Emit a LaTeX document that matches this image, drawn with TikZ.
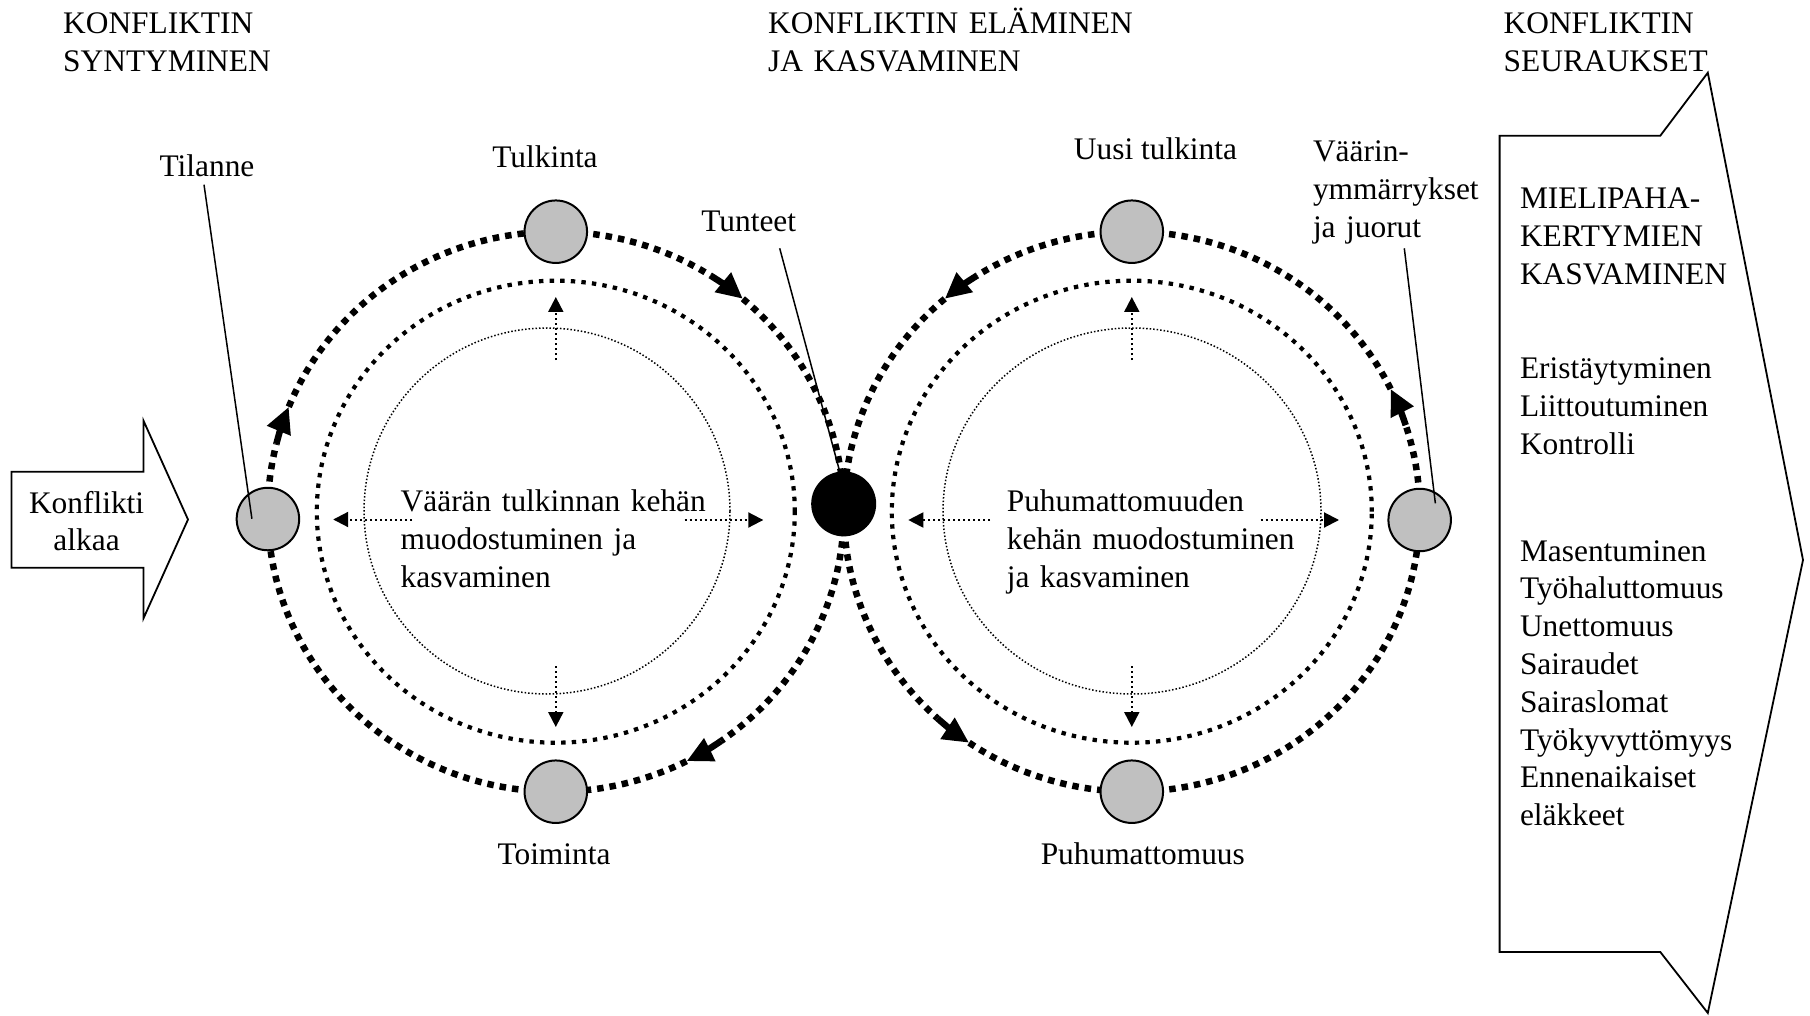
\documentclass[tikz,border=0pt]{standalone}
\usepackage{fontspec}
\setmainfont{Liberation Serif}
\usetikzlibrary{arrows.meta,calc}
\definecolor{nodegray}{RGB}{192,192,192}
\newcommand\txtfont{\fontsize{31.4}{37.8}\selectfont}
% arc of one of the two big orbits: style, centre, start angle, end angle
\newcommand\orbitarc[4]{%
  \draw[#1] ($(#2)+(#3:288pt and 280pt)$)
    arc[start angle=#3, end angle=#4, x radius=288pt, y radius=280pt];}
% dashed orbit arc that ends in a solid shaft with a heavy arrow head:
% centre, start angle, angle of the arrow point
\newcommand\orbitarrow[3]{%
  \pgfmathsetmacro\shaftstart{#3-8*sign(#3-#2)}%
  \orbitarc{outerring}{#1}{#2}{\shaftstart}%
  \orbitarc{flowtip}{#1}{\shaftstart}{#3}}
\tikzset{
  lbl/.style={font=\txtfont, inner sep=0pt, anchor=base},
  block/.style={font=\txtfont, inner sep=0pt, anchor=base west, text width=#1, align=left},
  station/.style={circle, draw=black, line width=2pt, fill=nodegray, minimum size=62.5pt, inner sep=0pt},
  hub/.style={circle, fill=black, minimum size=65pt, inner sep=0pt},
  outerring/.style={line width=6.5pt, dash pattern=on 6.5pt off 6pt},
  midring/.style={line width=4.2pt, dash pattern=on 4.4pt off 6.2pt},
  innerring/.style={line width=1.5pt, dash pattern=on 1.5pt off 2pt},
  flowtip/.style={line width=6.5pt, -{Triangle[length=26pt,width=24pt]}},
  probe/.style={line width=2pt, dash pattern=on 2pt off 3pt, -{Triangle[length=15pt,width=15pt]}},
  leader/.style={line width=1.5pt},
  outline/.style={line width=1.8pt, line join=miter},
}
\begin{document}
\begin{tikzpicture}[x=1pt,y=1pt]
\useasboundingbox (0,0) rectangle (1810,-1016);

% centres of the two cycles
\coordinate (cl) at (555.8,-511.7);
\coordinate (cr) at (1131.8,-511.7);

% inner thin circles
\draw[innerring] (547,-511) ellipse[x radius=183pt, y radius=183pt];
\draw[innerring] (1132,-511) ellipse[x radius=189pt, y radius=183pt];

% middle rings
\draw[midring] (cl) ellipse[x radius=239pt, y radius=231pt];
\draw[midring] (cr) ellipse[x radius=240pt, y radius=231pt];

% left cycle, clockwise: Tilanne -> Tulkinta -> Tunteet -> Toiminta -> Tilanne
\orbitarrow{cl}{181.5}{158}
\orbitarc{outerring}{cl}{158}{90}
\orbitarrow{cl}{90}{49.5}
\orbitarc{outerring}{cl}{49.5}{1.6}
\orbitarrow{cl}{1.6}{-63}
\orbitarc{outerring}{cl}{-63}{-90}
\orbitarc{outerring}{cl}{-90}{-178.5}

% right cycle, counter-clockwise: Uusi tulkinta -> Tunteet -> Puhumattomuus -> juorut -> Uusi tulkinta
\orbitarrow{cr}{90}{130.5}
\orbitarc{outerring}{cr}{130.5}{178.5}
\orbitarrow{cr}{178.5}{235.6}
\orbitarc{outerring}{cr}{235.6}{270}
\orbitarc{outerring}{cr}{-90}{-1.7}
\orbitarrow{cr}{-1.7}{26}
\orbitarc{outerring}{cr}{26}{90}

% stations on the orbits
\node[station] (tilanne)  at ($(cl)+(181.5:288pt and 280pt)$) {};
\node[station] (tulkinta) at ($(cl)+(90:288pt and 280pt)$) {};
\node[station] (toiminta) at ($(cl)+(270:288pt and 280pt)$) {};
\node[hub]     (tunteet)  at ($(cl)+(1.6:288pt and 280pt)$) {};
\node[station] (uusi)     at ($(cr)+(90:288pt and 280pt)$) {};
\node[station] (puhu)     at ($(cr)+(270:288pt and 280pt)$) {};
\node[station] (juorut)   at ($(cr)+(-1.7:288pt and 280pt)$) {};

% dotted growth arrows inside the cycles
\foreach \c in {cl,cr}{
  \draw[probe] ($(\c)+(0,151.7)$) -- ($(\c)+(0,214.7)$);
  \draw[probe] ($(\c)+(0,-154.3)$) -- ($(\c)+(0,-215.3)$);
}
\draw[probe] ($(cl)+(-143.8,-7.8)$) -- ($(cl)+(-222.6,-7.8)$);
\draw[probe] ($(cl)+(128.7,-8.3)$) -- ($(cl)+(207.5,-8.3)$);
\draw[probe] ($(cr)+(-141.8,-8.3)$) -- ($(cr)+(-223.5,-8.3)$);
\draw[probe] ($(cr)+(128.7,-8.3)$) -- ($(cr)+(207.2,-8.3)$);

% headings
\node[block=400pt] (h1) at (63,-33.3) {KONFLIKTIN\\SYNTYMINEN};
\node[block=500pt] (h2) at (768,-33.3) {KONFLIKTIN ELÄMINEN\\JA KASVAMINEN};
\node[block=300pt] (h3) at (1503.5,-33.3) {KONFLIKTIN\\SEURAUKSET};

% station labels
\node[lbl] (tilanne-l)  at (207,-176.7) {Tilanne};
\node[lbl] (tulkinta-l) at (545,-167.3) {Tulkinta};
\node[lbl] (toiminta-l) at (554,-864) {Toiminta};
\node[lbl] (tunteet-l)  at (748.7,-231.7) {Tunteet};
\node[lbl] (uusi-l)     at (1155.5,-160) {Uusi tulkinta};
\node[lbl] (puhu-l)     at (1142.8,-864) {Puhumattomuus};
\node[block=250pt] (juorut-l) at (1312.8,-161.7) {Väärin-\\ymmärrykset\\ja juorut};

% leader lines
\draw[leader] ($(tilanne-l.base)+(-3,-8)$) -- ($(tilanne.center)+(-16,0.3)$);
\draw[leader] ($(tunteet-l.base)+(31,-16.6)$) -- (tunteet.97);
\draw[leader] ($(juorut-l.base west)+(91.5,-86.6)$) -- ($(juorut.center)+(15.7,16.7)$);

% cycle texts
\node[block=400pt] (cyc-l) at (400.5,-511.7) {Väärän tulkinnan kehän\\muodostuminen ja\\kasvaminen};
\node[block=400pt] (cyc-r) at (1006.6,-511.7) {Puhumattomuuden\\kehän muodostuminen\\ja kasvaminen};

% start arrow
\draw[outline] (11.5,-471.7) -- (143.5,-471.7) -- (143.5,-420.7) -- (188,-519.5)
  -- (143.5,-618.3) -- (143.5,-567.7) -- (11.5,-567.7) -- cycle;
\node[font=\txtfont, inner sep=0pt, anchor=base, text width=150pt, align=center]
  (start-l) at (86.6,-513) {Konflikti\\alkaa};

% consequences arrow
\draw[outline] (1499.6,-135.7) -- (1660.3,-135.7) -- (1707.8,-72.7) -- (1803,-560)
  -- (1707.8,-1013) -- (1660.3,-952) -- (1499.6,-952) -- cycle;
\node[block=280pt] (cons1) at (1519.8,-209) {MIELIPAHA-\\KERTYMIEN\\KASVAMINEN};
\node[block=280pt] (cons2) at (1519.8,-378.6) {Eristäytyminen\\Liittoutuminen\\Kontrolli};
\node[block=280pt] (cons3) at (1519.8,-561) {Masentuminen\\Työhaluttomuus\\Unettomuus\\Sairaudet\\Sairaslomat\\Työkyvyttömyys\\Ennenaikaiset\\eläkkeet};
\end{tikzpicture}
\end{document}
